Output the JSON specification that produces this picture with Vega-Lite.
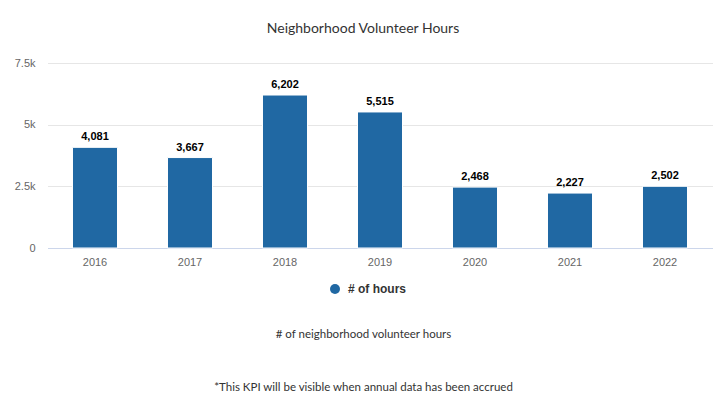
{
  "$schema": "https://vega.github.io/schema/vega-lite/v6.json",
  "autosize": {"type": "none"},
  "width": 665,
  "height": 185,
  "padding": {"left": 47.5, "top": 63, "right": 8.5, "bottom": 163},
  "background": "#ffffff",
  "title": {
    "text": "Neighborhood Volunteer Hours",
    "font": "Lato",
    "fontSize": 14,
    "fontWeight": "normal",
    "color": "#333333",
    "anchor": "middle",
    "frame": "group",
    "baseline": "alphabetic",
    "offset": 10,
    "dx": -17
  },
  "data": {
    "values": [
      {"year": "2016", "hours": 4081},
      {"year": "2017", "hours": 3667},
      {"year": "2018", "hours": 6202},
      {"year": "2019", "hours": 5515},
      {"year": "2020", "hours": 2468},
      {"year": "2021", "hours": 2227},
      {"year": "2022", "hours": 2502}
    ]
  },
  "encoding": {
    "x": {
      "field": "year",
      "type": "ordinal",
      "scale": {"paddingInner": 0.526, "paddingOuter": 0.263},
      "axis": {
        "labelAngle": 0,
        "labelFont": "Liberation Sans",
        "labelFontSize": 11,
        "labelColor": "#666666",
        "labelPadding": 8,
        "ticks": false,
        "domainColor": "#ccd6eb",
        "domainWidth": 1,
        "title": ["# of neighborhood volunteer hours", "*This KPI will be visible when annual data has been accrued"],
        "titleFont": "Lato",
        "titleFontSize": 11.5,
        "titleFontWeight": "normal",
        "titleColor": "#333333",
        "titleLineHeight": 53,
        "titleBaseline": "alphabetic",
        "titleX": 315.5,
        "titleY": 89
      }
    },
    "y": {
      "field": "hours",
      "type": "quantitative",
      "scale": {"domain": [0, 7500], "nice": false},
      "axis": {
        "values": [0, 2500, 5000, 7500],
        "labelExpr": "datum.value == 0 ? '0' : format(datum.value / 1000, '~g') + 'k'",
        "labelFont": "Liberation Sans",
        "labelFontSize": 11,
        "labelColor": "#666666",
        "labelPadding": 12.5,
        "ticks": false,
        "domain": false,
        "gridColor": "#e6e6e6",
        "title": null
      }
    }
  },
  "layer": [
    {
      "mark": {"type": "bar", "stroke": "#ffffff", "strokeWidth": 1},
      "encoding": {
        "color": {
          "datum": "# of hours",
          "type": "nominal",
          "scale": {"range": ["#2068a3"]},
          "legend": {
            "orient": "none",
            "legendX": 281.5,
            "legendY": 220,
            "title": null,
            "padding": 0,
            "symbolType": "circle",
            "symbolSize": 100,
            "symbolStrokeWidth": 0,
            "labelFont": "Liberation Sans",
            "labelFontSize": 12,
            "labelFontWeight": "bold",
            "labelColor": "#333333",
            "labelOffset": 7
          }
        }
      }
    },
    {
      "mark": {"type": "text", "baseline": "bottom", "dy": -5, "font": "Liberation Sans", "fontSize": 11, "fontWeight": "bold", "color": "#000000"},
      "encoding": {
        "text": {"field": "hours", "type": "quantitative", "format": ","}
      }
    }
  ],
  "config": {
    "view": {"stroke": null}
  }
}
